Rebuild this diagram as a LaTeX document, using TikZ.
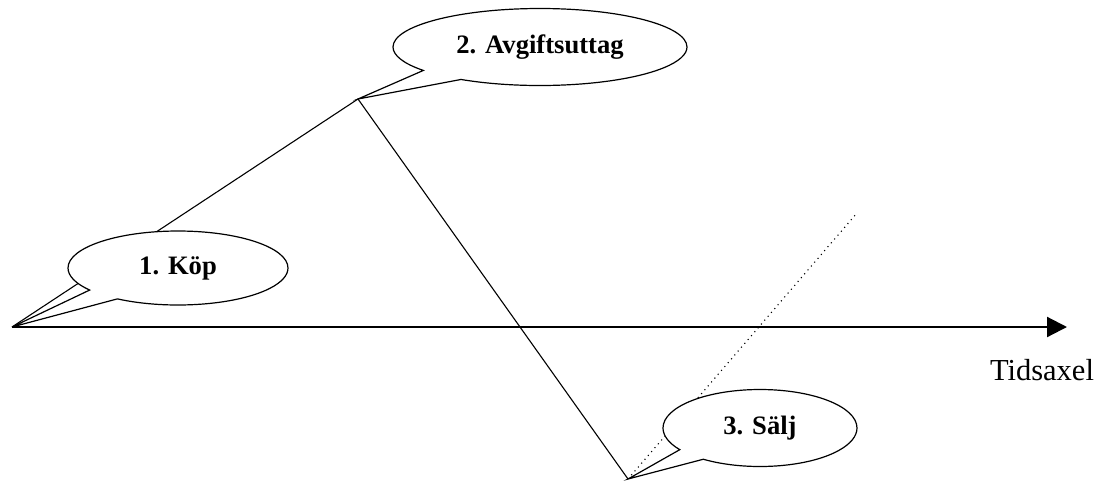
\documentclass[tikz,border=0pt]{standalone}
\usepackage{fontspec}
\setmainfont{Liberation Serif}
\usetikzlibrary{shapes.callouts,arrows.meta}

\begin{document}
\begin{tikzpicture}[
      x=0.5pt, y=-0.5pt,
      bubble/.style={ellipse callout, draw, fill=white, line width=0.6pt,
        callout pointer arc=20, font=\fontsize{13.3}{16}\selectfont\bfseries},
      price/.style={line width=0.55pt},
      axis/.style={line width=1.1pt, -{Triangle[length=10pt,width=10pt]}}
    ]
    \useasboundingbox (0,0) rectangle (1105,483);
    \coordinate (buy) at (12,327);
    \coordinate (fee) at (358,99);
    \coordinate (sell) at (628,479);
    \coordinate (later) at (857,213);
    \coordinate (axisend) at (1067,327);
    \draw[axis] (buy) -- (axisend);
    \node (time) at (1042,370) {\fontsize{15.25}{18}\selectfont Tidsaxel};
    \draw[price] (buy) -- (fee) -- (sell);
    \draw[price, dotted] (sell) -- (later);
    \node[bubble, minimum width=110pt, minimum height=37pt,
      callout absolute pointer={(buy)}] (kop) at (178,268) {1. Köp};
    \node[bubble, minimum width=147pt, minimum height=38.5pt,
      callout absolute pointer={(fee)}] (avgift) at (540,47) {2. Avgiftsuttag};
    \node[bubble, minimum width=97pt, minimum height=38.5pt,
      callout absolute pointer={(sell)}] (salj) at (760,428) {3. Sälj};
\end{tikzpicture}
\end{document}
